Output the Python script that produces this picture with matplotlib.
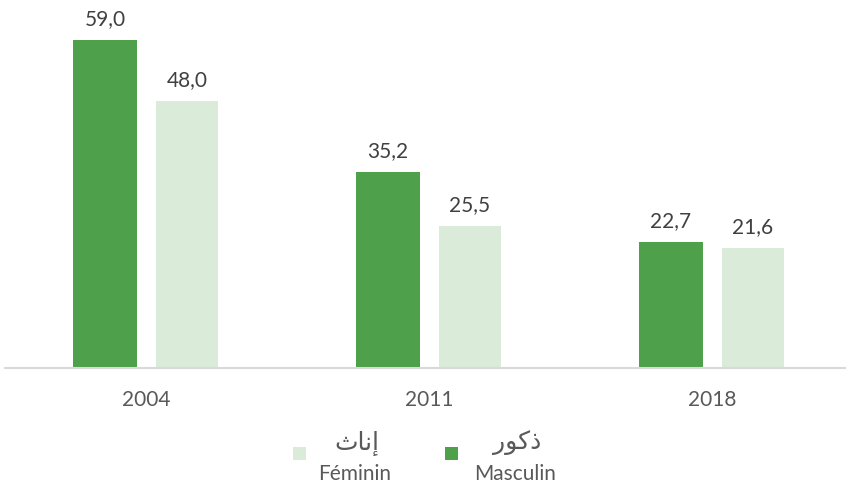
import matplotlib
matplotlib.use("Agg")
import matplotlib.pyplot as plt
import numpy as np
from matplotlib.patches import Rectangle

years = ["2004", "2011", "2018"]
masculin = [59.0, 35.2, 22.7]
feminin = [48.0, 25.5, 21.6]
# Arabic labels in visual (pre-shaped) presentation forms: "ذكور" and "إناث"
ar_m, fr_m = "\uFEAD\uFEEE\uFEDB\uFEAB", "Masculin"
ar_f, fr_f = "\uFE99\uFE8E\uFEE7\uFE87", "Féminin"

GREEN = "#4EA04A"
LIGHT = "#DAEBD9"
TXT = "#404040"
FAM = ["Lato", "DejaVu Sans"]

W, H = 850, 486
fig = plt.figure(figsize=(W / 100, H / 100), dpi=100)
ax = fig.add_axes([5 / W, 1 - 368 / H, 840 / W, 344.8 / H])

x = np.arange(len(years))
bw = 0.226
off = 0.145
b1 = ax.bar(x - off, masculin, bw, color=GREEN)
b2 = ax.bar(x + off, feminin, bw * 0.96, color=LIGHT)

def fmt(vals):
    return [f"{v:.1f}".replace(".", ",") for v in vals]

for bars, vals in ((b1, masculin), (b2, feminin)):
    labs = ax.bar_label(bars, labels=fmt(vals), padding=8, fontsize=15, color=TXT)
    for t in labs:
        t.set_family(FAM)

ax.set_xlim(-0.498, 2.47)
ax.set_ylim(0, 62)
ax.set_xticks(x)
ax.set_xticklabels(years)
for t in ax.get_xticklabels():
    t.set_family(FAM)
    t.set_fontsize(15)
    t.set_color("#595959")
ax.tick_params(axis="x", length=0, pad=16)
ax.set_yticks([])
for s in ["top", "right", "left"]:
    ax.spines[s].set_visible(False)
ax.spines["bottom"].set_color("#D9D9D9")
ax.spines["bottom"].set_linewidth(1.5)

# manual legend
def fx(px):
    return px / W

def fy(py):
    return 1 - py / H

for (sx, col, ar, fr, tx) in ((293, LIGHT, ar_f, fr_f, 355), (445, GREEN, ar_m, fr_m, 515)):
    fig.add_artist(Rectangle((fx(sx), fy(460)), 13 / W, 13 / H, transform=fig.transFigure,
                             facecolor=col, edgecolor="none"))
    fig.text(fx(tx + 2), fy(443), ar, ha="center", va="center", fontsize=18,
             family=["DejaVu Sans"], color="#595959")
    fig.text(fx(tx), fy(474), fr, ha="center", va="center", fontsize=15,
             family=FAM, color="#595959")

fig.savefig("out.png", dpi=100)
